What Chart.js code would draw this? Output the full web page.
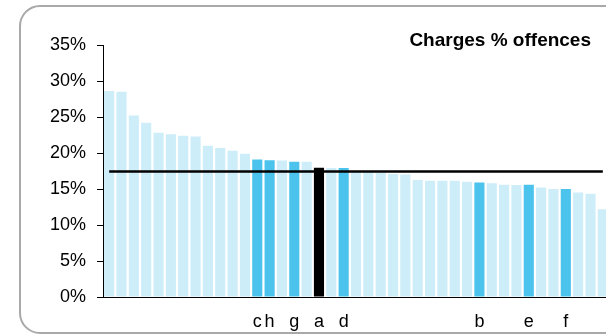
<!DOCTYPE html>
<html>
<head>
<meta charset="utf-8">
<script src="https://cdn.jsdelivr.net/npm/chart.js@4"></script>
<style>
    html, body { margin: 0; padding: 0; background: #fff; overflow: hidden; }
    #wrap { position: relative; width: 606px; height: 334px; overflow: hidden; }
    #frame {
        position: absolute; left: 19px; top: 5px; width: 700px; height: 329px;
        box-sizing: border-box; border: 2px solid #a9a9a9; border-radius: 21px;
    }
    #chart { position: absolute; left: 0; top: 0; }
</style>
</head>
<body>
<div id="wrap">
    <div id="frame"></div>
    <canvas id="chart" width="620" height="334"></canvas>
</div>
<script>
// forces, sorted by charges as % of offences
const categories = ['', '', '', '', '', '', '', '', '', '', '', '', 'c', 'h', '', 'g', '', 'a', '', 'd',
    '', '', '', '', '', '', '', '', '', '', 'b', '', '', '', 'e', '', '', 'f', '', '', ''];
const chargeRates = [28.6, 28.5, 25.2, 24.2, 22.8, 22.6, 22.4, 22.3, 21.0, 20.7, 20.3, 19.9, 19.1, 19.0,
    18.95, 18.8, 18.8, 17.96, 17.9, 17.9, 17.35, 17.35, 17.27, 17.1, 17.0, 16.25, 16.15, 16.15, 16.15,
    16.0, 15.9, 15.8, 15.6, 15.55, 15.6, 15.2, 15.0, 15.0, 14.5, 14.35, 12.2];
const average = 17.43;
const yTicks = [0, 5, 10, 15, 20, 25, 30, 35];
const chartTitle = 'Charges % offences';

const LIGHT = '#cdedf9';
const DARK = '#4cc3ec';

// labelled forces are highlighted, 'a' is the one we look at
const barColors = categories.map(c => c === 'a' ? '#000000' : (c ? DARK : LIGHT));

const titlePlugin = {
    id: 'cornerTitle',
    afterDraw(chart) {
        const ctx = chart.ctx;
        ctx.save();
        ctx.font = 'bold 19px "Liberation Sans", Arial, sans-serif';
        ctx.fillStyle = '#000';
        ctx.textAlign = 'right';
        ctx.textBaseline = 'alphabetic';
        ctx.fillText(chartTitle, 591, 46);
        ctx.restore();
    }
};

new Chart(document.getElementById('chart'), {
    data: {
        labels: categories,
        datasets: [
            {
                type: 'line',
                data: categories.map(() => average),
                borderColor: '#000',
                borderWidth: 2.5,
                pointRadius: 0,
                order: 0
            },
            {
                type: 'bar',
                data: chargeRates,
                backgroundColor: barColors,
                borderWidth: 0,
                barPercentage: 0.82,
                categoryPercentage: 1,
                order: 1
            }
        ]
    },
    options: {
        responsive: false,
        animation: false,
        layout: { padding: { left: 0, right: 11, top: 45, bottom: 0 } },
        plugins: {
            legend: { display: false },
            tooltip: { enabled: false }
        },
        scales: {
            x: {
                grid: { display: false, drawTicks: false },
                border: { display: true, color: '#000', width: 1 },
                ticks: {
                    autoSkip: false,
                    maxRotation: 0,
                    padding: 14,
                    color: '#000',
                    font: { family: '"Liberation Sans", Arial, sans-serif', size: 18 }
                },
                afterFit: s => { s.height = 37; }
            },
            y: {
                min: 0,
                max: 35,
                afterBuildTicks: s => { s.ticks = yTicks.map(v => ({ value: v })); },
                grid: { drawOnChartArea: false, tickLength: 6, color: '#000' },
                border: { display: true, color: '#000', width: 1 },
                ticks: {
                    padding: 11,
                    color: '#000',
                    font: { family: '"Liberation Sans", Arial, sans-serif', size: 18 },
                    callback: v => v + '%'
                },
                afterFit: s => { s.width = 103; }
            }
        }
    },
    plugins: [titlePlugin]
});
</script>
</body>
</html>
